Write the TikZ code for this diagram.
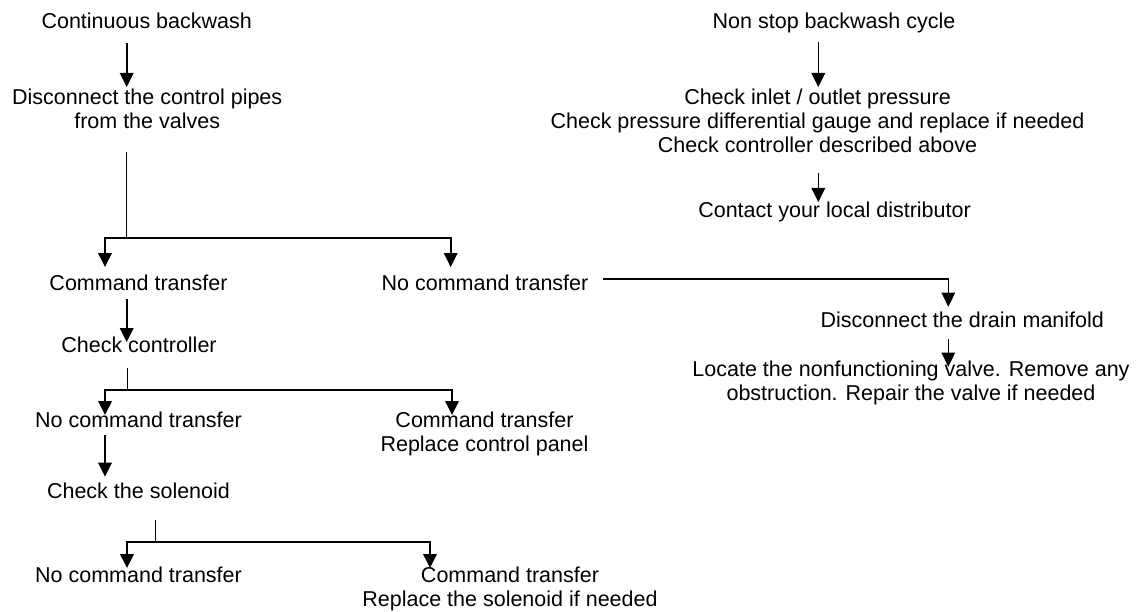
\documentclass[tikz,border=0pt]{standalone}
\usepackage{fontspec}
\setmainfont{Liberation Sans}
\usetikzlibrary{arrows.meta,calc}
\begin{document}
\begin{tikzpicture}[x=1pt,y=-1pt,
  lbl/.style={anchor=base,inner sep=0pt,font=\fontsize{21.5}{24}\selectfont},
  arrthick/.style={line width=2pt,-{Triangle[length=14pt,width=13.5pt]}},
  arrthin/.style={line width=1.5pt,-{Triangle[length=14pt,width=13.5pt]}},
  stem/.style={line width=1pt},
  linethin/.style={line width=1.5pt}]
\useasboundingbox (0,0) rectangle (1139,612);
% left column
\node[lbl] (cb)   at (146.7,29)  {Continuous backwash};
\node[lbl] (dcp)  at (147.2,105) {\begin{tabular}[t]{@{}c@{}}Disconnect the control pipes\\from the valves\end{tabular}};
\node[lbl] (ct1)  at (138.5,290) {Command transfer};
\node[lbl] (nct1) at (485,290)   {No command transfer};
\node[lbl] (cc)   at (139,352)   {Check controller};
\node[lbl] (nct2) at (138.5,427) {No command transfer};
\node[lbl] (ct2)  at (484.5,427) {\begin{tabular}[t]{@{}c@{}}Command transfer\\Replace control panel\end{tabular}};
\node[lbl] (cs)   at (138.5,498) {Check the solenoid};
\node[lbl] (nct3) at (138.5,582) {No command transfer};
\node[lbl] (ct3)  at (510,582)   {\begin{tabular}[t]{@{}c@{}}Command transfer\\Replace the solenoid if needed\end{tabular}};
% right column
\node[lbl] (nsb)  at (834,29)    {Non stop backwash cycle};
\node[lbl] (chk)  at (817.5,105) {\begin{tabular}[t]{@{}c@{}}Check inlet / outlet pressure\\Check pressure differential gauge and replace if needed\\Check controller described above\end{tabular}};
\node[lbl] (cld)  at (834.5,218) {Contact your local distributor};
\node[lbl] (ddm)  at (962.3,327) {Disconnect the drain manifold};
\node[lbl] (loc)  at (911,376)   {\begin{tabular}[t]{@{}c@{}}Locate the nonfunctioning valve. Remove any\\obstruction. Repair the valve if needed\end{tabular}};
% junction coordinates
\coordinate (j1) at ($(dcp.base)+(-20.5,133.3)$);
\coordinate (j2) at ($(cc.base)+(-12,38)$);
\coordinate (j3) at ($(cs.base)+(17,43.7)$);
% connectors left
\draw[arrthick] ($(cb.base)+(-20,14)$) -- ($(dcp.base)+(-20.5,-18)$);
\draw[stem] ($(dcp.base)+(-20.5,47)$) -- (j1);
\draw[arrthick] (j1) -| ($(ct1.base)+(-33.5,-23)$);
\draw[arrthick] (j1) -| ($(nct1.base)+(-34.3,-23)$);
\draw[arrthick] ($(ct1.base)+(-11.8,9)$) -- ($(cc.base)+(-12.3,-10)$);
\draw[stem] ($(cc.base)+(-12,16)$) -- (j2);
\draw[arrthick] (j2) -| ($(nct2.base)+(-33.5,-12)$);
\draw[arrthick] (j2) -| ($(ct2.base)+(-32.5,-12)$);
\draw[arrthick] ($(nct2.base)+(-33.5,8)$) -- ($(cs.base)+(-33.5,-21.3)$);
\draw[stem] ($(cs.base)+(17,22)$) -- (j3);
\draw[arrthick] (j3) -| ($(nct3.base)+(-11.5,-14)$);
\draw[arrthick] (j3) -| ($(ct3.base)+(-80,-14)$);
% connectors right
\draw[arrthin] ($(nct1.base)+(118,-11)$) -| ($(ddm.base)+(-14,-20.3)$);
\draw[arrthin] ($(ddm.base)+(-14,12)$) -- ($(loc.base)+(37.3,-9.3)$);
\draw[arrthin] ($(nsb.base)+(-15.7,13)$) -- ($(chk.base)+(0.8,-18)$);
\draw[arrthin] ($(chk.base)+(0.8,68)$) -- ($(cld.base)+(-16.2,-16)$);
\end{tikzpicture}
\end{document}
